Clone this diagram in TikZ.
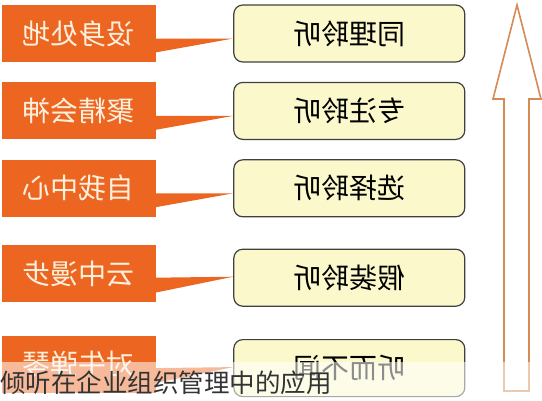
\documentclass[tikz,border=0pt]{standalone}
\usepackage{xcolor}
\usepackage{graphicx}
\usepackage{fontspec}
\usepackage{tikz}
\usetikzlibrary{positioning}
\newfontfamily\cjk{Noto Sans CJK SC}
\definecolor{listenorange}{RGB}{236, 102, 34}
\definecolor{listentext}{RGB}{252, 240, 220}
\definecolor{listenyellow}{RGB}{251, 249, 204}
\definecolor{listenborder}{RGB}{64, 64, 64}
\definecolor{listenarrow}{RGB}{214, 138, 84}

\begin{document}
\begin{tikzpicture}[
        x=1pt, y=-1pt,
        node distance=20pt,
        obox/.style={fill=listenorange, minimum width=154pt, minimum height=57pt, inner sep=0pt, text=listentext, font=\cjk\fontsize{28}{28}\selectfont},
        ybox/.style={draw=listenborder, line width=1.2pt, fill=listenyellow, rounded corners=9pt, minimum width=231pt, minimum height=57pt, inner sep=0pt, font=\cjk\fontsize{28}{28}\selectfont},
        pointer/.style={fill=listenorange},
        levelarrow/.style={draw=listenarrow, line width=1.6pt, fill=white, line join=miter}
    ]
        \useasboundingbox (0,0) rectangle (542,400);

        % Left labels
        \node[obox] (empathy) at (79,33.5) {\reflectbox{设身处地}};
        \node[obox, below=of empathy] (focus) {\reflectbox{聚精会神}};
        \node[obox, below=of focus] (self) {\reflectbox{自我中心}};
        \node[obox, below=28pt of self] (cloud) {\reflectbox{云中漫步}};
        \node[obox, below=33pt of cloud] (deaf) {\reflectbox{对牛弹琴}};

        % Listening levels
        \node[ybox, right=77pt of empathy] (same) {\reflectbox{同理聆听}};
        \node[ybox, right=77pt of focus] (attentive) {\reflectbox{专注聆听}};
        \node[ybox, right=77pt of self] (selective) {\reflectbox{选择聆听}};
        \node[ybox, right=77pt of cloud, yshift=-4pt] (pretend) {\reflectbox{假装聆听}};
        \node[ybox, right=77pt of deaf, yshift=-4pt] (ignore) {\reflectbox{听而不闻}};

        % Pointers
        \fill[pointer] ([xshift=-1pt, yshift=-5pt]empathy.east) -- ([yshift=-5pt]same.west) -- ([xshift=-1pt, yshift=-19pt]empathy.east) -- cycle;
        \fill[pointer] ([xshift=-1pt, yshift=-5pt]focus.east) -- ([yshift=-5pt]attentive.west) -- ([xshift=-1pt, yshift=-19pt]focus.east) -- cycle;
        \fill[pointer] ([xshift=-1pt, yshift=-5pt]self.east) -- ([yshift=-5pt]selective.west) -- ([xshift=-1pt, yshift=-19pt]self.east) -- cycle;
        \fill[pointer] ([xshift=-1pt, yshift=-4pt]cloud.east) -- ([yshift=1pt]pretend.west) -- ([xshift=-1pt, yshift=-19pt]cloud.east) -- cycle;
        \fill[pointer] ([xshift=-1pt, yshift=-4pt]deaf.east) -- ([yshift=1pt]ignore.west) -- ([xshift=-1pt, yshift=-19pt]deaf.east) -- cycle;

        % Rising arrow
        \draw[levelarrow] (504,391) -- (504,99) -- (493,99) -- (517,5) -- (541,99) -- (529,99) -- (529,391) -- cycle;

        % Caption
        \fill[white, opacity=0.55] (0,362) rectangle (542,400);
        \node[anchor=base west, inner sep=0pt, text=black!80, font=\cjk\fontsize{25.5}{25.5}\selectfont] (caption) at (0,392) {倾听在企业组织管理中的应用};
    \end{tikzpicture}
\end{document}
